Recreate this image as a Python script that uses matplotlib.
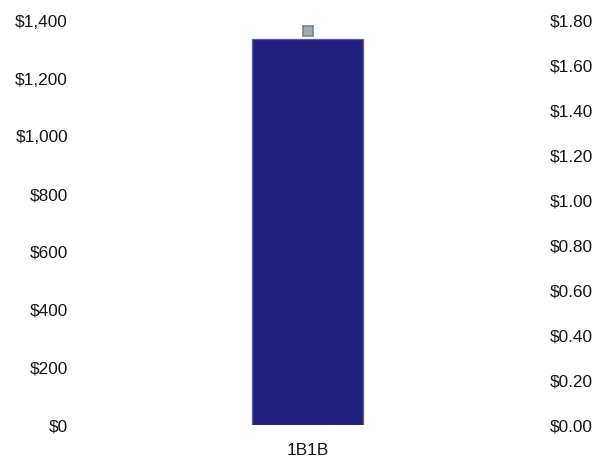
import matplotlib
matplotlib.use("Agg")
import matplotlib.pyplot as plt
from matplotlib.ticker import FuncFormatter

plt.rcParams['font.family'] = ['Liberation Sans', 'DejaVu Sans']

# data
categories = ['1B1B']
totals = [1338]          # left axis, dollars
unit_price = [1.755]     # right axis, dollars per unit

fig = plt.figure(figsize=(6.05, 4.61), dpi=100)
ax = fig.add_axes([86 / 605, 36 / 461, 443 / 605, 404 / 461])
x = list(range(len(categories)))
ax.bar(x, totals, width=0.25, color='#20207f', edgecolor='#5a5aa2', linewidth=0.9)
ax.set_xlim(-0.5, 0.5)
ax.set_ylim(0, 1400)
ax.set_yticks(range(0, 1401, 200))
ax.yaxis.set_major_formatter(FuncFormatter(lambda v, p: '${:,.0f}'.format(v)))
ax.set_xticks(x)
ax.set_xticklabels(categories)

ax2 = ax.twinx()
ax2.plot(x, unit_price, linestyle='none', marker='s', markersize=7,
         markerfacecolor='#a0aab4', markeredgecolor='#7a828a', markeredgewidth=1.2)
ax2.set_ylim(0, 1.8)
ax2.set_yticks([i * 0.2 for i in range(10)])
ax2.yaxis.set_major_formatter(FuncFormatter(lambda v, p: '${:.2f}'.format(v)))

for a in (ax, ax2):
    for s in a.spines.values():
        s.set_visible(False)
    a.tick_params(length=0, labelsize=12.4, colors='#151515')
ax.tick_params(axis='y', pad=13)
ax.tick_params(axis='x', pad=13)
ax2.tick_params(axis='y', pad=15)

fig.savefig('out.png')
